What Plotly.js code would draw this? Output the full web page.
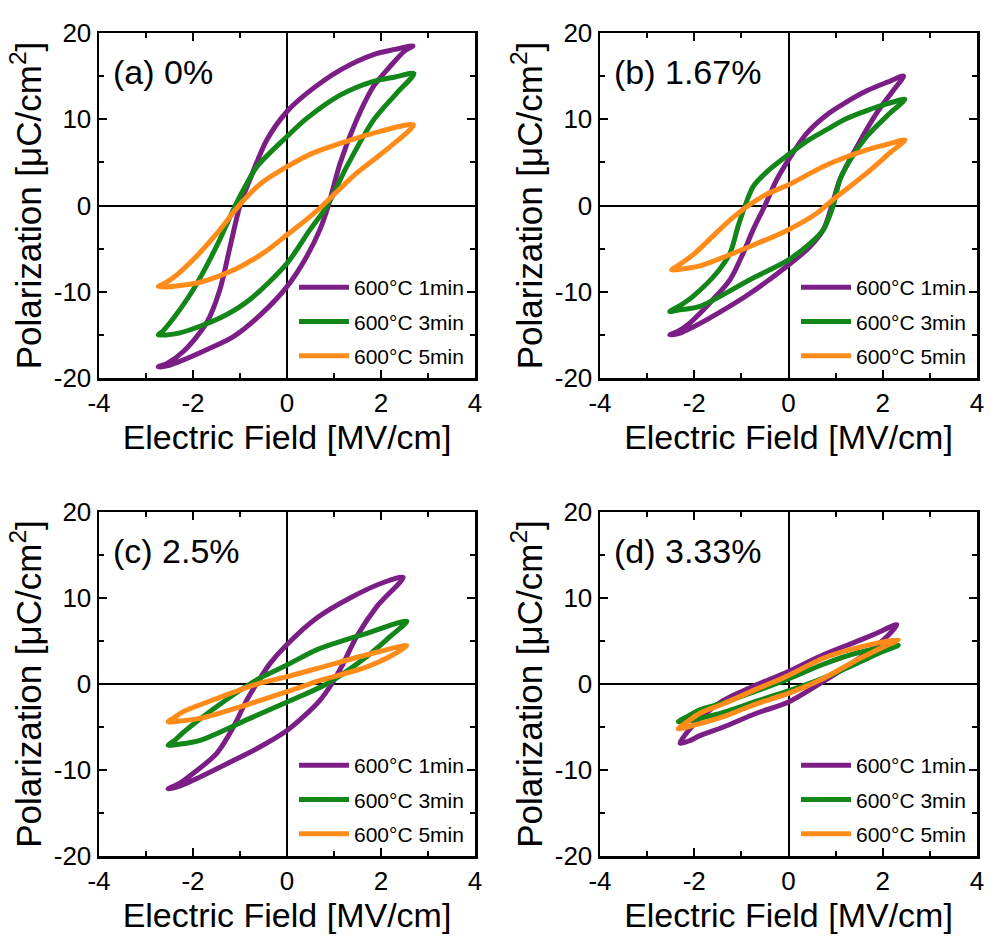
<!DOCTYPE html>
<html>
<head>
<meta charset="utf-8">
<script src="https://cdn.plot.ly/plotly-3.0.1.min.js"></script>
<style>html,body{margin:0;padding:0;background:#fff;}#chart{width:1004px;height:945px;}</style>
</head>
<body>
<div id="chart"></div>
<script>
// ---------- labels ----------
const panelLabels = ['(a) 0%', '(b) 1.67%', '(c) 2.5%', '(d) 3.33%'];
const seriesNames = ['600°C 1min', '600°C 3min', '600°C 5min'];
const xTickVals = [-4, -2, 0, 2, 4];
const xTickText = ['-4', '-2', '0', '2', '4'];
const yTickVals = [-20, -10, 0, 10, 20];
const yTickText = ['-20', '-10', '0', '10', '20'];
const xTitle = 'Electric Field [MV/cm]';
const yTitle = 'Polarization [μC/cm<sup>2</sup>]';

// ---------- (a) 0% : loop = upper branch (+Emax -> -Emax) then lower branch back ----------
const aE1 = [2.68, 2.3, 1.84, 1.13, 0.42, 0, -0.43, -0.79, -1.0, -1.21, -1.43, -1.71, -2.2, -2.55, -2.74,
             -2.55, -2.2, -1.7, -1.14, -0.55, 0, 0.42, 0.7, 0.88, 1.13, 1.48, 1.84, 2.19, 2.5, 2.68];
const aP1 = [18.5, 18.1, 17.5, 15.7, 13.0, 10.9, 7.6, 3.0, 0, -4.75, -9.8, -13.6, -16.9, -18.3, -18.7,
             -18.6, -17.9, -16.7, -15.2, -12.6, -9.4, -5.9, -2.8, 0, 4.9, 9.9, 13.8, 16.1, 17.9, 18.5];
const aE2 = [2.7, 2.3, 1.84, 1.13, 0.42, 0, -0.64, -0.93, -1.1, -1.5, -2.0, -2.49, -2.65, -2.74,
             -2.55, -2.3, -1.85, -1.3, -0.79, 0, 0.49, 0.86, 1.27, 1.84, 2.33, 2.7];
const aP2 = [15.3, 14.9, 14.4, 12.8, 10.1, 8.0, 4.5, 1.8, 0, -4.75, -9.8, -13.6, -14.6, -15.0,
             -15.0, -14.8, -14.0, -12.7, -10.9, -6.7, -2.8, 0, 4.5, 9.9, 13.0, 15.3];
const aE3 = [2.69, 1.98, 1.13, 0.56, 0, -0.57, -1.02, -1.5, -2.0, -2.4, -2.6, -2.74,
             -2.55, -2.3, -1.85, -1.07, -0.5, 0, 0.4, 0.76, 1.1, 1.48, 2.19, 2.69];
const aP3 = [9.35, 8.6, 7.2, 6.1, 4.5, 2.5, 0, -3.3, -6.3, -8.3, -9.0, -9.4,
             -9.45, -9.3, -8.9, -7.3, -5.5, -3.4, -1.7, 0, 1.8, 3.75, 6.8, 9.35];

// ---------- (b) 1.67% ----------
const bE1 = [2.44, 2.1, 1.66, 1.2, 0.81, 0.39, 0, -0.25, -0.5, -0.75, -0.96, -1.24, -1.67, -2.09, -2.35, -2.52,
             -2.3, -2.1, -1.5, -0.82, 0, 0.46, 0.74, 0.92, 1.09, 1.45, 1.87, 2.23, 2.44];
const bP1 = [15.0, 14.3, 13.3, 11.9, 10.5, 8.4, 5.3, 3.0, 0, -2.8, -5.5, -8.6, -11.3, -13.6, -14.6, -15.0,
             -14.8, -14.3, -12.5, -10.2, -6.9, -4.75, -2.8, 0, 3.0, 6.8, 10.7, 13.4, 15.0];
const bE2 = [2.47, 2.1, 1.66, 1.2, 0.81, 0.4, 0, -0.46, -0.75, -0.92, -1.07, -1.24, -1.52, -2.02, -2.3, -2.52,
             -2.3, -1.88, -0.82, 0, 0.46, 0.74, 0.95, 1.09, 1.31, 1.66, 2.15, 2.47];
const bP2 = [12.3, 11.8, 11.0, 10.0, 8.8, 7.5, 5.9, 3.9, 2.2, 0, -2.4, -5.5, -7.8, -10.5, -11.6, -12.3,
             -12.1, -11.7, -8.6, -6.3, -4.4, -2.8, 0, 3.0, 5.3, 8.0, 10.7, 12.3];
const bE3 = [2.47, 2.1, 1.66, 0.81, 0, -0.5, -0.85, -1.2, -1.5, -2.0, -2.3, -2.48,
             -2.25, -1.88, -0.82, 0, 0.6, 0.95, 1.66, 2.15, 2.47];
const bP3 = [7.6, 7.1, 6.45, 4.7, 2.4, 1.2, 0, -1.5, -3.0, -5.6, -6.8, -7.45,
             -7.35, -7.0, -4.75, -2.8, -0.9, 0.7, 3.75, 6.1, 7.6];

// ---------- (c) 2.5% ----------
const cE1 = [2.47, 2.05, 1.34, 0.64, 0, -0.36, -0.65, -0.86, -1.14, -1.5, -2.0, -2.3, -2.53,
             -2.3, -2.0, -1.14, -0.57, 0, 0.35, 0.7, 0.95, 1.16, 1.48, 1.91, 2.47];
const cP1 = [12.4, 11.8, 10.0, 7.7, 4.6, 2.4, 0, -1.9, -5.0, -8.1, -10.4, -11.6, -12.2,
             -11.9, -11.2, -8.9, -7.3, -5.4, -3.8, -1.9, 0, 2.0, 5.5, 9.0, 12.4];
const cE2 = [2.55, 1.7, 0.64, 0, -0.57, -0.79, -1.5, -2.2, -2.4, -2.53,
             -2.3, -1.85, -0.79, 0, 0.84, 1.7, 2.19, 2.55];
const cP2 = [7.3, 5.9, 4.0, 2.2, 0.7, 0, -2.65, -5.6, -6.6, -7.1,
             -7.0, -6.55, -4.0, -2.1, 0, 3.2, 5.5, 7.3];
const cE3 = [2.55, 1.7, 0.64, 0, -0.57, -1.5, -2.2, -2.4, -2.53,
             -2.3, -1.85, -0.79, 0, 0.64, 1.7, 2.19, 2.55];
const cP3 = [4.45, 3.4, 1.8, 0.85, 0.1, -1.7, -3.2, -3.9, -4.4,
             -4.3, -4.0, -2.3, -0.9, 0.3, 2.0, 3.2, 4.45];

// ---------- (d) 3.33% ----------
const dE1 = [2.3, 1.87, 1.45, 0.74, 0, -0.68, -1.38, -1.88, -2.15, -2.3,
             -2.1, -1.88, -1.38, -0.68, 0, 0.74, 1.45, 2.01, 2.3];
const dP1 = [6.9, 5.9, 4.95, 3.4, 1.45, -0.1, -1.9, -4.0, -5.6, -6.9,
             -6.6, -6.0, -5.0, -3.4, -2.1, 0.3, 2.8, 5.1, 6.9];
const dE2 = [2.33, 1.45, 0.74, 0, -0.68, -1.38, -1.88, -2.15, -2.34,
             -2.15, -1.88, -1.38, -0.68, 0, 0.74, 1.45, 2.01, 2.33];
const dP2 = [4.5, 3.6, 2.3, 0.6, -0.8, -2.2, -3.0, -3.8, -4.4,
             -4.3, -4.0, -3.3, -2.0, -0.8, 0.7, 2.4, 3.8, 4.5];
const dE3 = [2.33, 1.45, 0.74, 0, -0.68, -1.38, -1.88, -2.15, -2.34,
             -2.15, -1.88, -1.38, -0.68, 0, 0.74, 1.45, 2.01, 2.33];
const dP3 = [5.15, 4.2, 3.0, 1.0, -0.6, -2.3, -3.4, -4.4, -5.2,
             -5.0, -4.6, -3.8, -2.3, -1.1, 0.65, 2.8, 4.3, 5.15];

// ---------- styling ----------
const colors = ['#7b1f87', '#13861a', '#ff8c1a'];
const FONT = 'Arial, "Liberation Sans", sans-serif';

const panelData = [
  [[aE1, aP1], [aE2, aP2], [aE3, aP3]],
  [[bE1, bP1], [bE2, bP2], [bE3, bP3]],
  [[cE1, cP1], [cE2, cP2], [cE3, cP3]],
  [[dE1, dP1], [dE2, dP2], [dE3, dP3]]
];

const W = 1004, H = 945;
// plot-area pixel boxes [left, right, top, bottom]
const boxes = [
  [99, 475, 33, 378],
  [600, 977, 33, 378],
  [99, 475, 512, 856],
  [600, 977, 512, 856]
];

const traces = [];
const layout = {
  width: W, height: H,
  margin: {l: 0, r: 0, t: 0, b: 0},
  paper_bgcolor: '#ffffff',
  plot_bgcolor: '#ffffff',
  font: {family: FONT, color: '#000'},
  annotations: [],
  showlegend: true
};

panelData.forEach((series, i) => {
  const sfx = i === 0 ? '' : String(i + 1);
  const legName = i === 0 ? 'legend' : 'legend' + (i + 1);
  series.forEach((s, j) => {
    traces.push({
      x: s[0], y: s[1],
      type: 'scatter', mode: 'lines',
      line: {color: colors[j], width: 5, shape: 'spline', smoothing: 0.85},
      name: seriesNames[j],
      xaxis: 'x' + sfx, yaxis: 'y' + sfx,
      legend: legName,
      legendgroup: 'g' + i + '_' + j,
      hoverinfo: 'skip'
    });
  });
  const b = boxes[i];
  const xd = [b[0] / W, b[1] / W];
  const yd = [1 - b[3] / H, 1 - b[2] / H];
  const common = {
    showline: true, linecolor: '#000', linewidth: 2.5, mirror: 'allticks',
    ticks: 'inside', ticklen: 8, tickwidth: 2, tickcolor: '#000',
    showgrid: false, zeroline: true, zerolinecolor: '#000', zerolinewidth: 2,
    tickmode: 'array',
    tickfont: {family: FONT, size: 26, color: '#000'},
    fixedrange: true
  };
  layout['xaxis' + sfx] = Object.assign({}, common, {
    domain: xd, range: [-4, 4], anchor: 'y' + sfx,
    tickvals: xTickVals, ticktext: xTickText,
    minor: {tickmode: 'linear', tick0: 0, dtick: 1, ticks: 'inside', ticklen: 5, tickwidth: 2, tickcolor: '#000', showgrid: false},
    title: {text: xTitle, font: {family: FONT, size: 34, color: '#000'}, standoff: 0}
  });
  layout['yaxis' + sfx] = Object.assign({}, common, {
    domain: yd, range: [-20, 20], anchor: 'x' + sfx,
    tickvals: yTickVals, ticktext: yTickText,
    minor: {tickmode: 'linear', tick0: 0, dtick: 5, ticks: 'inside', ticklen: 5, tickwidth: 2, tickcolor: '#000', showgrid: false},
    title: {text: yTitle, font: {family: FONT, size: 35, color: '#000'}, standoff: 2}
  });
  layout[legName] = {
    x: (b[1] - 6) / W, xanchor: 'right',
    y: 1 - (b[3] - 2) / H, yanchor: 'bottom',
    bgcolor: 'rgba(0,0,0,0)', borderwidth: 0,
    font: {family: FONT, size: 21, color: '#000'},
    traceorder: 'grouped', tracegroupgap: 4, itemwidth: 50,
    itemclick: false, itemdoubleclick: false
  };
  layout.annotations.push({
    text: panelLabels[i], xref: 'paper', yref: 'paper',
    x: (b[0] + 12) / W, y: 1 - (b[2] + 39) / H,
    xanchor: 'left', yanchor: 'middle', showarrow: false,
    font: {family: FONT, size: 34, color: '#000'}
  });
});

Plotly.newPlot('chart', traces, layout, {displayModeBar: false, staticPlot: true});
</script>
</body>
</html>
